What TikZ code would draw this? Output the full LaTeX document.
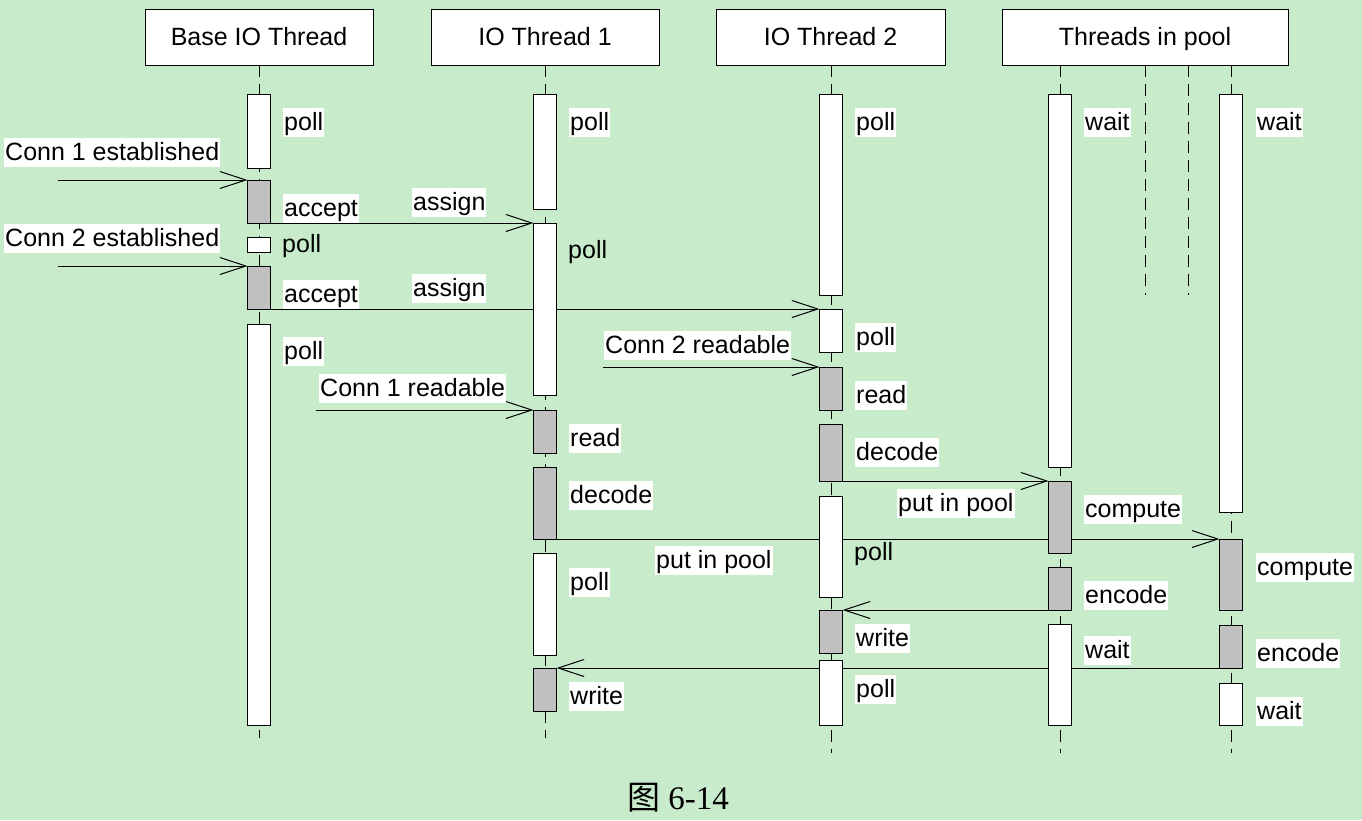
\documentclass[tikz,border=0pt]{standalone}
\usepackage{fontspec}
\usetikzlibrary{arrows.meta}
\newfontfamily\lab{Liberation Sans}
\newfontfamily\cjk{Noto Sans CJK SC}
\newfontfamily\capfont{Liberation Serif}
\definecolor{bgc}{RGB}{200,236,203}
\definecolor{actg}{RGB}{192,192,192}
\pgfdeclarelayer{bgl}
\pgfdeclarelayer{msgl}
\pgfsetlayers{bgl,msgl,main}
\newcommand\actbox[5]{\node[act,fill=#5,minimum height=#4pt] (#1) at (#2,#3) {};}
\begin{document}
\begin{tikzpicture}[x=1pt,y=-1pt,
  head/.style={draw,fill=white,line width=1pt,minimum height=56pt,inner sep=0pt,text height=21pt,text depth=5pt,font=\lab\fontsize{25}{30}\selectfont},
  act/.style={draw,line width=1pt,minimum width=23pt,inner sep=0pt,outer sep=0pt,anchor=north},
  lbl/.style={anchor=west,fill=white,inner xsep=1pt,inner ysep=2pt,text height=21pt,text depth=4pt,font=\lab\fontsize{25}{30}\selectfont},
  lbn/.style={lbl,fill=none},
  life/.style={line width=1pt,dash pattern=on 12pt off 7pt},
  msg/.style={line width=1pt,-{Straight Barb[length=26pt,width=17pt]}}]
\begin{pgfonlayer}{bgl}
\fill[bgc] (0,0) rectangle (1362,820);
\end{pgfonlayer}
\useasboundingbox (0,0) rectangle (1362,820);
% headers
\node[head,minimum width=228pt] (hb) at (259,37) {Base IO Thread};
\node[head,minimum width=228pt] (h1) at (545,37) {IO Thread 1};
\node[head,minimum width=229pt] (h2) at (830.5,37) {IO Thread 2};
\node[head,minimum width=286pt] (hp) at (1145,37) {Threads in pool};
% lifeline ends
\coordinate (lb1) at (259,65); \coordinate (lb2) at (259,738);
\coordinate (l11) at (545,65); \coordinate (l12) at (545,738);
\coordinate (l21) at (831,65); \coordinate (l22) at (831,753);
\coordinate (lp11) at (1060,65); \coordinate (lp12) at (1060,753);
\coordinate (lp21) at (1145,65); \coordinate (lp22) at (1145,295);
\coordinate (lp31) at (1188,65); \coordinate (lp32) at (1188,295);
\coordinate (lp41) at (1231,65); \coordinate (lp42) at (1231,753);
\begin{pgfonlayer}{bgl}
\foreach \a/\b in {lb1/lb2,l11/l12,l21/l22,lp11/lp12,lp21/lp22,lp31/lp32,lp41/lp42}
  \draw[life] (\a) -- (\b);
\end{pgfonlayer}
% Base IO thread
\actbox{bp1}{259}{94}{74}{white}
\actbox{ba1}{259}{180}{43}{actg}
\actbox{bp2}{259}{237}{15}{white}
\actbox{ba2}{259}{266}{43}{actg}
\actbox{bp3}{259}{324}{401}{white}
% IO thread 1
\actbox{ap1}{545}{94}{115}{white}
\actbox{ap2}{545}{223}{172}{white}
\actbox{ard}{545}{410}{43}{actg}
\actbox{adc}{545}{467}{72}{actg}
\actbox{ap3}{545}{553}{102}{white}
\actbox{awr}{545}{668}{43}{actg}
% IO thread 2
\actbox{cp1}{831}{94}{201}{white}
\actbox{cp2}{831}{309}{43}{white}
\actbox{crd}{831}{367}{43}{actg}
\actbox{cdc}{831}{424}{57}{actg}
\actbox{cp3}{831}{496}{101}{white}
\actbox{cwr}{831}{610}{43}{actg}
\actbox{cp4}{831}{660}{65}{white}
% pool thread a
\actbox{dw1}{1060}{94}{373}{white}
\actbox{dcp}{1060}{481}{72}{actg}
\actbox{den}{1060}{567}{43}{actg}
\actbox{dw2}{1060}{624}{101}{white}
% pool thread b
\actbox{ew1}{1231}{94}{418}{white}
\actbox{ecp}{1231}{539}{71}{actg}
\actbox{een}{1231}{625}{43}{actg}
\actbox{ew2}{1231}{683}{42}{white}
% message sources
\coordinate (s1) at (58,180);
\coordinate (s2) at (58,266);
\coordinate (s3) at (603,367);
\coordinate (s4) at (316,410);
\begin{pgfonlayer}{msgl}
\draw[msg] (s1) -- (ba1.north west);
\draw[msg] (ba1.south east) -- (ap2.north west);
\draw[msg] (s2) -- (ba2.north west);
\draw[msg] (ba2.south east) -- (cp2.north west);
\draw[msg] (s3) -- (crd.north west);
\draw[msg] (s4) -- (ard.north west);
\draw[msg] (cdc.south east) -- (dcp.north west);
\draw[msg] (adc.south east) -- (ecp.north west);
\draw[msg] (den.south west) -- (cwr.north east);
\draw[msg] (een.south west) -- (awr.north east);
\end{pgfonlayer}
% message labels
\node[lbl] (m1) at (4,152) {Conn 1 established};
\node[lbl] (m2) at (412,202) {assign};
\node[lbl] (m3) at (4,238) {Conn 2 established};
\node[lbl] (m4) at (412,288) {assign};
\node[lbl] (m5) at (604,345) {Conn 2 readable};
\node[lbl] (m6) at (319,388) {Conn 1 readable};
\node[lbl] (m7) at (897,503) {put in pool};
\node[lbl] (m8) at (655,560) {put in pool};
% activity labels
\node[lbl] (t1) at (283,122) {poll};
\node[lbl] (t2) at (283,208) {accept};
\node[lbn] (t3) at (281,244) {poll};
\node[lbl] (t4) at (283,294) {accept};
\node[lbl] (t5) at (283,351) {poll};
\node[lbl] (u1) at (569,122) {poll};
\node[lbn] (u2) at (567,250) {poll};
\node[lbl] (u3) at (569,438) {read};
\node[lbl] (u4) at (569,495) {decode};
\node[lbl] (u5) at (569,582) {poll};
\node[lbl] (u6) at (569,696) {write};
\node[lbl] (v1) at (855,122) {poll};
\node[lbl] (v2) at (855,337) {poll};
\node[lbl] (v3) at (855,395) {read};
\node[lbl] (v4) at (855,452) {decode};
\node[lbn] (v5) at (853,552) {poll};
\node[lbl] (v6) at (855,638) {write};
\node[lbl] (v7) at (855,689) {poll};
\node[lbl] (w1) at (1084,122) {wait};
\node[lbl] (w2) at (1084,509) {compute};
\node[lbl] (w3) at (1084,595) {encode};
\node[lbl] (w4) at (1084,650) {wait};
\node[lbl] (x1) at (1256,122) {wait};
\node[lbl] (x2) at (1256,567) {compute};
\node[lbl] (x3) at (1256,653) {encode};
\node[lbl] (x4) at (1256,711) {wait};
% caption
\node[font=\capfont\fontsize{33}{38}\selectfont,inner sep=0pt] (cap) at (678,798) {{\cjk 图} 6-14};
\end{tikzpicture}
\end{document}
